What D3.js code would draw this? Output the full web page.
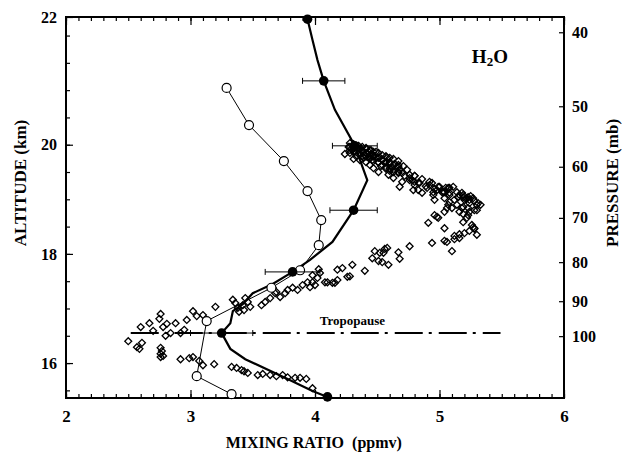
<!DOCTYPE html>
<html>
<head>
<meta charset="utf-8">
<script src="https://cdn.jsdelivr.net/npm/d3@7"></script>
<style>
body { margin: 0; background: #fff; }
text { font-family: "Liberation Serif", "Times New Roman", serif; font-weight: bold; fill: #000; }
.tick line { stroke: #000; stroke-width: 1.2; }
</style>
</head>
<body>
<svg class="chart" width="624" height="452"></svg>
<script>
// ticks
var xTicks = [2, 3, 4, 5, 6];
var altTicks = [16, 18, 20];
var presTicks = [40, 50, 60, 70, 80, 90, 100];

// filled dots with error bars (ppmv, km)
var dotPpmv = [3.94, 4.07, 4.32, 4.31, 3.82, 3.25, 4.10];
var dotAlt = [22.3, 21.17, 19.98, 18.80, 17.67, 16.55, 15.38];
var dotErr = [0, 0.17, 0.18, 0.19, 0.22, 0.25, 0];

// thick curve
var modelPpmv = [3.94, 3.98, 4.02, 4.07, 4.16, 4.32, 4.42, 4.31, 4.14, 3.96, 3.82, 3.66, 3.50, 3.42, 3.34, 3.32, 3.25, 3.32, 3.44, 3.78, 3.98, 4.10];
var modelAlt = [22.3, 21.92, 21.55, 21.17, 20.64, 19.98, 19.35, 18.80, 18.22, 17.89, 17.67, 17.45, 17.28, 17.08, 16.95, 16.73, 16.55, 16.26, 16.07, 15.71, 15.49, 15.38];

// open circles
var obsPpmv = [3.29, 3.47, 3.75, 3.94, 4.05, 4.03, 3.88, 3.65, 3.13, 3.05, 3.33];
var obsAlt = [21.04, 20.36, 19.70, 19.15, 18.62, 18.16, 17.70, 17.38, 16.77, 15.76, 15.43];

// diamonds [ppmv, km]
var diamonds = [
    [2.50,16.40],[2.57,16.29],[2.61,16.37],[2.59,16.26],[2.60,16.66],[2.67,16.73],[2.70,16.59],[2.75,16.81],
    [2.76,16.90],[2.76,16.28],[2.77,16.22],[2.76,16.17],[2.78,16.13],[2.76,16.11],[2.78,16.66],[2.81,16.72],
    [2.80,16.50],[2.84,16.55],[2.88,16.73],[2.92,16.55],[2.95,16.61],[2.97,16.79],[3.02,16.95],[3.05,16.86],
    [3.10,16.88],[3.20,17.03],[2.92,16.07],[2.99,16.09],[3.02,16.11],[3.07,16.04],[3.10,15.96],[3.19,15.98],
    [3.33,15.93],[3.37,15.91],[3.41,15.87],[3.43,15.85],[3.46,15.82],
    [3.54,15.78],[3.58,15.80],[3.64,15.78],[3.69,15.76],[3.74,15.78],[3.78,15.74],[3.84,15.73],[3.88,15.73],
    [3.93,15.71],[3.98,15.54],
    [3.36,17.10],[3.38,17.01],[3.42,17.06],[3.43,16.97],[3.46,17.12],[3.48,17.03],[3.44,17.19],[3.39,16.94],
    [3.34,17.16],[3.57,17.06],[3.60,17.12],[3.64,17.19],[3.68,17.28],[3.72,17.21],[3.66,17.38],[3.69,17.30],
    [3.76,17.28],[3.78,17.34],[3.82,17.38],[3.86,17.34],[3.90,17.43],[3.94,17.48],[3.96,17.39],[3.98,17.48],
    [4.00,17.43],[4.02,17.56],[4.04,17.65],[3.98,17.61],[4.08,17.48],[4.14,17.47],[4.18,17.71],[4.22,17.74],
    [4.26,17.58],[4.28,17.59],[4.18,17.52],[4.16,17.47],[4.10,17.48],[4.03,17.72],[4.30,17.80],[4.40,17.69],
    [4.46,17.92],[4.48,18.05],[4.51,17.87],[4.52,18.02],[4.56,18.09],[4.59,17.80],[4.67,18.03],[4.68,17.91],
    [4.76,18.14],[4.58,18.11],[4.55,18.02],[4.54,17.85],
    [4.94,18.20],[5.04,18.24],[5.06,18.22],[5.10,18.05],[5.12,18.33],[5.16,18.29],[5.16,18.36],[5.20,18.38],
    [5.24,18.42],[5.28,18.46],[5.30,18.35],[5.12,18.27],[4.91,18.57],[4.96,18.71],[4.99,18.66],[5.04,18.47],
    [5.26,18.53],[5.28,18.47],[5.19,18.58],[5.22,18.66],[5.19,18.73],[5.24,18.77],[5.28,18.80],[5.30,18.90],
    [5.31,18.93],[5.27,18.49],
    [4.27,19.96],[4.30,19.90],[4.32,19.87],[4.35,19.94],[4.36,19.85],[4.38,19.90],[4.40,19.81],[4.39,19.76],
    [4.43,19.87],[4.44,19.77],[4.46,19.72],[4.47,19.81],[4.49,19.76],[4.51,19.68],[4.52,19.77],[4.54,19.72],
    [4.56,19.67],[4.58,19.76],[4.60,19.68],[4.62,19.59],[4.64,19.65],[4.66,19.57],[4.41,19.94],[4.45,19.90],
    [4.49,19.87],[4.33,19.79],[4.36,19.72],[4.41,19.68],[4.53,19.61],[4.57,19.56],[4.28,19.85],[4.31,19.74],
    [4.60,19.52],[4.63,19.50],[4.68,19.54],[4.72,19.43],[4.74,19.54],[4.71,19.61],[4.76,19.39],[4.80,19.43],
    [4.24,19.83],[4.44,19.63],[4.47,19.57],[4.51,19.50],[4.59,19.45],[4.63,19.39],[4.67,19.48],[4.70,19.32],
    [4.68,19.23],[4.79,19.17],[4.78,19.35],[4.80,19.26],[4.83,19.17],[4.86,19.12],[4.90,19.21],[4.92,19.26],
    [4.95,19.08],[4.98,19.17],[5.00,19.23],[5.04,19.13],[5.08,19.21],[5.11,19.23],[5.14,19.13],[5.16,19.08],
    [5.19,19.04],[5.22,19.02],[5.24,18.99],[5.27,19.02],[5.33,18.90],[5.30,18.80],[5.23,18.84],[5.19,18.86],
    [5.16,18.77],[5.23,18.71],[5.08,18.95],[5.06,18.84],[4.98,18.68],
    [4.67,19.63],[4.70,19.48],[4.76,19.45],[4.80,19.32],[4.84,19.30],[4.94,19.30],[4.95,19.13],[4.96,18.99],
    [4.99,19.23],[5.03,19.13],[5.04,19.02],[5.07,19.21],[5.08,19.12],[5.12,18.99],[5.15,19.04],[5.19,19.08],
    [5.20,18.99],[5.23,19.04],[5.24,18.93],[5.07,18.90],[5.10,18.84],[5.04,18.77],[5.14,18.90],[5.18,18.84],
    // dense mass just above 19.5 km
    [4.28,20.03],[4.28,19.96],[4.28,19.90],[4.31,20.01],[4.31,19.94],[4.31,19.87],[4.35,19.98],[4.35,19.90],
    [4.35,19.83],[4.38,19.96],[4.38,19.87],[4.38,19.79],[4.41,19.92],[4.41,19.85],[4.41,19.78],[4.44,19.90],
    [4.44,19.81],[4.44,19.74],[4.47,19.87],[4.47,19.78],[4.47,19.70],[4.51,19.85],[4.51,19.76],[4.51,19.67],
    [4.54,19.81],[4.54,19.72],[4.54,19.63],[4.57,19.79],[4.57,19.68],[4.57,19.59],[4.60,19.76],[4.60,19.65],
    [4.60,19.57],[4.63,19.74],[4.63,19.63],[4.63,19.54],[4.67,19.70],[4.67,19.59],[4.67,19.50],
    [4.76,19.35],[4.83,19.30],[4.89,19.24],[4.96,19.19],[5.02,19.13],[5.08,19.08],[5.15,19.04],[5.21,19.01],
    [5.28,18.97],[4.80,19.43],[4.86,19.37],[4.92,19.32],[5.05,19.21],[5.18,19.12],[5.25,19.06]
];

var tropAlt = 16.55;
var tropRange = [2.52, 5.49];

var margin = {top: 17, right: 60, bottom: 54, left: 66};
var width = 624 - margin.left - margin.right;
var height = 452 - margin.top - margin.bottom;

var x = d3.scaleLinear().domain([2, 6]).range([0, width]);
var alt = d3.scaleLinear().domain([15.36, 22.34]).range([height, 0]);
var pres = d3.scaleLog().domain([38.2, 120.5]).range([0, height]);

var chart = d3.select('.chart');
chart.append('rect').attr('width', 624).attr('height', 452).attr('fill', '#fff');

var main = chart.append('g')
    .attr('transform', 'translate(' + margin.left + ',' + margin.top + ')');

function noDomain(g) { g.select('.domain').remove(); }

var minorX = d3.range(20, 61).map(function(d) { return d / 10; });

// bottom axis
main.append('g')
    .attr('transform', 'translate(0,' + height + ')')
    .call(d3.axisBottom(x).tickValues(minorX).tickSize(-4).tickFormat(''))
    .call(noDomain);
main.append('g')
    .attr('transform', 'translate(0,' + height + ')')
    .call(d3.axisBottom(x).tickValues(xTicks).tickSize(-8).tickPadding(12).tickFormat(d3.format('d')))
    .call(noDomain)
    .selectAll('text').style('font-size', '17px');

// top axis
main.append('g')
    .call(d3.axisTop(x).tickValues(minorX).tickSize(-4).tickFormat(''))
    .call(noDomain);
main.append('g')
    .call(d3.axisTop(x).tickValues(xTicks).tickSize(-8).tickFormat(''))
    .call(noDomain);

// left axis (the 22 label sits on the top edge)
var altTop = alt.domain()[1];
main.append('g')
    .call(d3.axisLeft(alt).tickValues(d3.range(15.5, 22.01, 0.5)).tickSize(-4).tickFormat(''))
    .call(noDomain);
main.append('g')
    .call(d3.axisLeft(alt).tickValues(altTicks.concat([altTop])).tickSize(-7).tickPadding(9)
        .tickFormat(function(d) { return d === altTop ? '22' : d; }))
    .call(noDomain)
    .selectAll('text').style('font-size', '16px');

// right axis, pressure
main.append('g')
    .attr('transform', 'translate(' + width + ',0)')
    .call(d3.axisRight(pres).tickValues(presTicks).tickSize(-5).tickPadding(8).tickFormat(d3.format('d')))
    .call(noDomain)
    .selectAll('text').style('font-size', '16px');

main.append('rect')
    .attr('width', width).attr('height', height)
    .attr('fill', 'none').attr('stroke', '#000').attr('stroke-width', 2);

// tropopause
main.append('line')
    .attr('x1', x(tropRange[0])).attr('x2', x(tropRange[1]))
    .attr('y1', alt(tropAlt)).attr('y2', alt(tropAlt))
    .attr('stroke', '#000').attr('stroke-width', 2)
    .attr('stroke-dasharray', '28,6,3,7');
main.append('text')
    .attr('x', x(4.3)).attr('y', alt(tropAlt) - 8)
    .attr('text-anchor', 'middle')
    .style('font-size', '13px')
    .text('Tropopause');

// diamonds
main.selectAll('.dia')
    .data(diamonds)
    .enter().append('path')
    .attr('class', 'dia')
    .attr('d', d3.symbol(d3.symbolSquare, 24))
    .attr('transform', function(d) { return 'translate(' + x(d[0]) + ',' + alt(d[1]) + ') rotate(45)'; })
    .attr('fill', 'none')
    .attr('stroke', '#000')
    .attr('stroke-width', 1.3);

// thin line with open circles
var obs = obsPpmv.map(function(v, i) { return [v, obsAlt[i]]; });
var line = d3.line().x(function(d) { return x(d[0]); }).y(function(d) { return alt(d[1]); });

main.append('path')
    .datum(obs)
    .attr('d', line)
    .attr('fill', 'none').attr('stroke', '#000').attr('stroke-width', 1);

// thick curve
var model = modelPpmv.map(function(v, i) { return [v, modelAlt[i]]; });
main.append('path')
    .datum(model)
    .attr('d', line)
    .attr('fill', 'none').attr('stroke', '#000').attr('stroke-width', 2.2);

main.selectAll('.obs')
    .data(obs)
    .enter().append('circle')
    .attr('class', 'obs')
    .attr('cx', function(d) { return x(d[0]); })
    .attr('cy', function(d) { return alt(d[1]); })
    .attr('r', 4.5)
    .attr('fill', '#fff').attr('stroke', '#000').attr('stroke-width', 1.2);

// error bars
var dots = dotPpmv.map(function(v, i) { return [v, dotAlt[i], dotErr[i]]; });
var bars = main.selectAll('.err')
    .data(dots.filter(function(d) { return d[2] > 0; }))
    .enter().append('g')
    .attr('class', 'err');
bars.append('line')
    .attr('x1', function(d) { return x(d[0] - d[2]); })
    .attr('x2', function(d) { return x(d[0] + d[2]); })
    .attr('y1', function(d) { return alt(d[1]); })
    .attr('y2', function(d) { return alt(d[1]); })
    .attr('stroke', '#000').attr('stroke-width', 1);
[-1, 1].forEach(function(s) {
    bars.append('line')
        .attr('x1', function(d) { return x(d[0] + s * d[2]); })
        .attr('x2', function(d) { return x(d[0] + s * d[2]); })
        .attr('y1', function(d) { return alt(d[1]) - 3; })
        .attr('y2', function(d) { return alt(d[1]) + 3; })
        .attr('stroke', '#000').attr('stroke-width', 1);
});

main.selectAll('.dot')
    .data(dots)
    .enter().append('circle')
    .attr('class', 'dot')
    .attr('cx', function(d) { return x(d[0]); })
    .attr('cy', function(d) { return alt(d[1]); })
    .attr('r', 4.8)
    .attr('fill', '#000');

// H2O label
var h2o = main.append('text')
    .attr('x', x(5.26)).attr('y', alt(21.5))
    .style('font-size', '19px');
h2o.append('tspan').text('H');
h2o.append('tspan').attr('dy', 3).style('font-size', '13px').text('2');
h2o.append('tspan').attr('dy', -3).text('O');

// axis titles
chart.append('text')
    .attr('transform', 'translate(26,' + (margin.top + alt(19.3)) + ') rotate(-90)')
    .attr('text-anchor', 'middle')
    .style('font-size', '17px')
    .text('ALTITUDE (km)');

chart.append('text')
    .attr('transform', 'translate(618,' + (margin.top + alt(19.3)) + ') rotate(-90)')
    .attr('text-anchor', 'middle')
    .style('font-size', '17px')
    .text('PRESSURE (mb)');

chart.append('text')
    .attr('x', margin.left + x(3.99)).attr('y', 448)
    .attr('text-anchor', 'middle')
    .style('font-size', '16px')
    .style('white-space', 'pre')
    .text('MIXING RATIO  (ppmv)');
</script>
</body>
</html>
